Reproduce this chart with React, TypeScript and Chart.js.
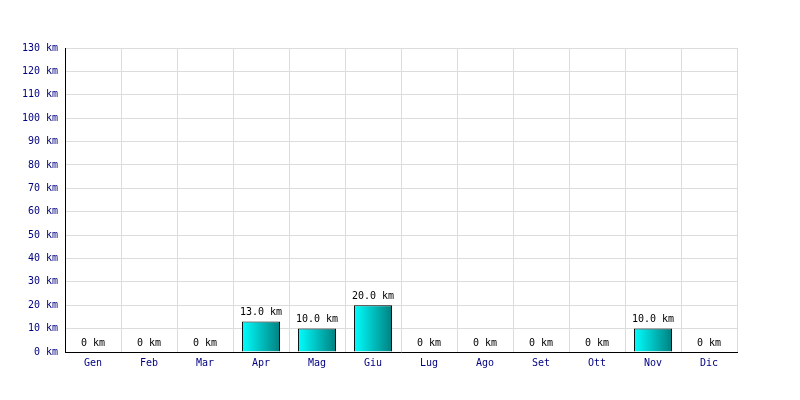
import React, { useEffect, useRef } from "react";
import { Chart, registerables } from "chart.js";

Chart.register(...registerables);

const months = ["Gen", "Feb", "Mar", "Apr", "Mag", "Giu", "Lug", "Ago", "Set", "Ott", "Nov", "Dic"];
const distances = [0, 0, 0, 13, 10, 20, 0, 0, 0, 0, 10, 0];
const yMax = 130;
const yStep = 10;

const FONT = "'DejaVu Sans Mono', monospace";
const BAR_PCT = 0.68;

const fmt = (v: number) => (v === 0 ? "0 km" : v.toFixed(1) + " km");

const valueLabels = {
  id: "valueLabels",
  afterDatasetsDraw(chart: any) {
    const ctx = chart.ctx;
    const meta = chart.getDatasetMeta(0);
    ctx.save();
    ctx.font = `10px ${FONT}`;
    ctx.fillStyle = "#000";
    ctx.textAlign = "center";
    ctx.textBaseline = "bottom";
    meta.data.forEach((el: any, i: number) => {
      const v = chart.data.datasets[0].data[i] as number;
      ctx.fillText(fmt(v), el.x, el.y - 4);
    });
    ctx.restore();
  },
};

export default function App() {
  const ref = useRef<HTMLCanvasElement>(null);
  useEffect(() => {
    if (!ref.current) return;
    const chart = new Chart(ref.current, {
      type: "bar",
      data: {
        labels: months,
        datasets: [
          {
            data: distances,
            backgroundColor: (c: any) => {
              const ch = c.chart;
              const sx = ch.scales?.x;
              if (!ch.chartArea || !sx) return "#00cccc";
              const x = sx.getPixelForValue(c.dataIndex);
              const half = (sx.width / months.length) * BAR_PCT / 2;
              const g = ch.ctx.createLinearGradient(x - half, 0, x + half, 0);
              g.addColorStop(0, "#00ffff");
              g.addColorStop(1, "#008080");
              return g;
            },
            borderColor: "#000",
            borderWidth: 1,
            barPercentage: BAR_PCT,
            categoryPercentage: 1,
          },
        ],
      },
      options: {
        responsive: false,
        animation: false,
        layout: { padding: { top: 48, right: 63, left: 0, bottom: 0 } },
        plugins: { legend: { display: false }, tooltip: { enabled: false } },
        scales: {
          x: {
            afterFit: (s: any) => {
              s.height = 48;
            },
            grid: { color: "#dcdcdc", drawTicks: false, offset: true },
            border: { color: "#000", width: 1 },
            ticks: { color: "#000080", font: { family: FONT, size: 10 }, padding: 5 },
          },
          y: {
            min: 0,
            max: yMax,
            afterFit: (s: any) => {
              s.width = 65;
            },
            grid: { color: "#dcdcdc", drawTicks: false },
            border: { color: "#000", width: 1 },
            ticks: {
              stepSize: yStep,
              color: "#000080",
              font: { family: FONT, size: 10 },
              padding: 7,
              callback: (v: any) => `${v} km`,
            },
          },
        },
      },
      plugins: [valueLabels],
    });
    return () => chart.destroy();
  }, []);
  return (
    <div style={{ position: "fixed", left: 0, top: 0, width: 800, height: 400, background: "#fff" }}>
      <canvas ref={ref} width={800} height={400} />
    </div>
  );
}
